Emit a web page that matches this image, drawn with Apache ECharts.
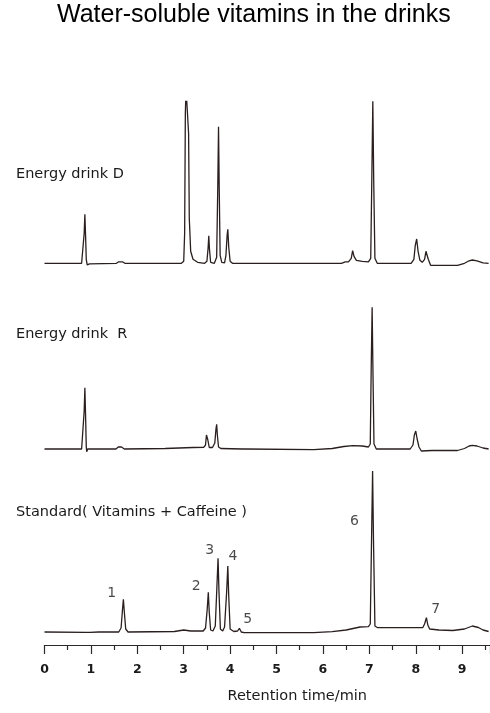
<!DOCTYPE html>
<html>
<head>
<meta charset="utf-8">
<script src="https://cdn.jsdelivr.net/npm/echarts@6/dist/echarts.min.js"></script>
<style>
  html, body { margin: 0; padding: 0; background: #fff; }
  #chart { width: 490px; height: 713px; }
</style>
</head>
<body>
<div id="chart"></div>
<script>
// chromatogram traces: [retention time (min), signal (a.u., baseline = 0)]
const drinkD = [
  [0, 0], [0.8, 0], [0.84, 2], [0.855, 30], [0.87, 49], [0.885, 28], [0.9, 4], [0.92, -1.5], [0.94, 0.5], [0.97, -0.5], [1.0, 0],
  [1.55, 0], [1.6, 1.5], [1.64, 3.5], [1.68, 1.5], [1.73, 0],
  [2.95, 0], [3.0, 2], [3.02, 30], [3.035, 150], [3.05, 175], [3.09, 175], [3.105, 130], [3.12, 45], [3.15, 12], [3.2, 4], [3.3, 1], [3.45, 0],
  [3.5, 2], [3.525, 15], [3.54, 27.6], [3.555, 14], [3.58, 1], [3.66, 0],
  [3.71, 6], [3.735, 80], [3.75, 136.6], [3.765, 75], [3.785, 8], [3.82, 1], [3.88, 0.5],
  [3.91, 8], [3.935, 28], [3.95, 34], [3.97, 16], [4.0, 2], [4.05, 0],
  [4.29, 0], [4.33, 1.5], [4.37, 0],
  [5.55, 0], [5.59, 1.5], [5.63, 0],
  [6.4, 0], [6.48, 1.5], [6.55, 1.5], [6.61, 5], [6.64, 12.6], [6.67, 7], [6.72, 3], [6.85, 2], [6.98, 1.5],
  [7.03, 5], [7.055, 90], [7.075, 162], [7.095, 80], [7.12, 5], [7.17, 0],
  [7.9, 0], [7.96, 4], [7.99, 18], [8.02, 24.3], [8.05, 12], [8.09, 3], [8.14, 1],
  [8.19, 4], [8.22, 12], [8.24, 13.3], [8.27, 4], [8.32, -2], [8.9, -2], [9.05, 0], [9.15, 2.5], [9.22, 3.3], [9.32, 2.5], [9.45, 0.5], [9.57, 0]
]

const drinkR = [
  [0, 0], [0.8, 0], [0.84, 2], [0.855, 38], [0.87, 61.3], [0.885, 34], [0.9, 2], [0.91, -2.7], [0.93, 0], [0.97, -0.5], [1.0, 0],
  [1.54, 0], [1.59, 2], [1.62, 4], [1.66, 2], [1.72, 0],
  [2.6, 0.5], [3.2, 1.5], [3.43, 1.7], [3.47, 4], [3.49, 14], [3.5, 16], [3.52, 9], [3.55, 1.5],
  [3.62, 1.5], [3.67, 6], [3.695, 20], [3.71, 24.7], [3.725, 14], [3.75, 2], [3.8, 0.5],
  [4.26, 0], [4.3, 1], [4.34, 0],
  [5.8, -0.7], [6.2, 0.5], [6.45, 2.5], [6.64, 3.3], [6.85, 3], [6.98, 2],
  [7.02, 5], [7.04, 80], [7.06, 141.7], [7.08, 70], [7.1, 5], [7.15, 0],
  [7.88, 0], [7.94, 4], [7.97, 14], [8.0, 18], [8.03, 10], [8.07, 2], [8.12, -2], [8.35, -1.5],
  [8.9, -1.5], [9.05, 0.5], [9.15, 3], [9.22, 3.7], [9.32, 3], [9.45, 1], [9.57, 0]
]

const standard = [
  [0, 0], [0.9, -0.3], [0.94, -1], [0.98, -0.3], [1.17, 0], [1.21, 1.3], [1.25, 0],
  [1.6, 0], [1.65, 4], [1.68, 22], [1.7, 32.7], [1.72, 20], [1.75, 3], [1.8, 0],
  [2.8, 0.5], [3.0, 2], [3.15, 1], [3.42, 1],
  [3.47, 4], [3.505, 22], [3.53, 39.7], [3.55, 20], [3.58, 2], [3.63, 1],
  [3.68, 6], [3.715, 45], [3.74, 73.7], [3.76, 40], [3.79, 3], [3.84, 1],
  [3.88, 5], [3.925, 40], [3.95, 66], [3.97, 36], [4.0, 3], [4.08, 0.5],
  [4.16, 1], [4.2, 3.7], [4.24, 0], [4.3, -0.7],
  [5.8, -0.7], [6.2, 0.3], [6.5, 2], [6.8, 5], [6.98, 5.3],
  [7.02, 8], [7.05, 100], [7.07, 161], [7.09, 90], [7.12, 6], [7.18, 4.3],
  [8.15, 4.3], [8.19, 8], [8.23, 14.3], [8.26, 7], [8.3, 3], [8.5, 2], [8.8, 1.5],
  [9.05, 3], [9.22, 6], [9.35, 4.5], [9.45, 2], [9.57, 0.5]
]

// peak numbers of the standard and where their labels sit
const peakNames = ['1', '2', '3', '4', '5', '6', '7']
const peakLabelTimes = [1.45, 3.27, 3.56, 4.06, 4.38, 6.68, 8.43]
const peakLabelHeights = [39, 45.3, 82, 76, 12.7, 110.3, 22.7]

const panelNames = ['Energy drink D', 'Energy drink  R', 'Standard( Vitamins + Caffeine )']

const lineColor = '#2a1f1f'
const textColor = '#1a1a1a'
const panelFont = 'DejaVu Sans'

const myChart = echarts.init(document.getElementById('chart'))

const gridBase = { left: 44.5, width: 446.4 }
const hiddenX = (gridIndex) => ({
  type: 'value', gridIndex, min: 0, max: 9.6, show: false
})
const hiddenY = (gridIndex, min) => ({
  type: 'value', gridIndex, min, max: 162, show: false
})
const traceSeries = (data, index) => ({
  type: 'line',
  xAxisIndex: index,
  yAxisIndex: index,
  data,
  symbol: 'none',
  smooth: false,
  clip: true,
  silent: true,
  lineStyle: {
    color: lineColor,
    width: 1.3
  }
})
const panelTitle = (text, top) => ({
  text,
  left: 16,
  top,
  padding: 0,
  textStyle: {
    fontFamily: panelFont,
    fontSize: 14.5,
    fontWeight: 'normal',
    color: textColor
  }
})

const option = {
  animation: false,
  title: [
    {
      text: 'Water-soluble vitamins in the drinks',
      left: 57,
      top: 3,
      padding: 0,
      textStyle: {
        fontFamily: 'Liberation Sans',
        fontSize: 25,
        fontWeight: 'normal',
        color: '#000'
      }
    },
    panelTitle(panelNames[0], 167),
    panelTitle(panelNames[1], 327),
    panelTitle(panelNames[2], 505)
  ],
  grid: [
    Object.assign({ top: 101.3, height: 174 }, gridBase),
    Object.assign({ top: 287, height: 174 }, gridBase),
    Object.assign({ top: 470, height: 175 }, gridBase)
  ],
  xAxis: [
    hiddenX(0),
    hiddenX(1),
    {
      type: 'value',
      gridIndex: 2,
      min: 0,
      max: 9.6,
      interval: 1,
      name: 'Retention time/min',
      nameLocation: 'middle',
      nameGap: 44,
      nameTextStyle: {
        fontFamily: panelFont,
        fontSize: 14.5,
        color: textColor,
        padding: [0, 0, 0, 60]
      },
      axisLine: {
        onZero: false,
        lineStyle: { color: '#2a2a2a', width: 1.2 }
      },
      axisTick: {
        length: 9,
        lineStyle: { color: '#2a2a2a', width: 1.2 }
      },
      minorTick: {
        show: true,
        splitNumber: 2,
        length: 5,
        lineStyle: { color: '#2a2a2a', width: 1.2 }
      },
      axisLabel: {
        showMaxLabel: false,
        margin: 18,
        fontFamily: panelFont,
        fontSize: 12.5,
        fontWeight: 'bold',
        color: textColor
      },
      splitLine: { show: false },
      minorSplitLine: { show: false }
    }
  ],
  yAxis: [
    hiddenY(0, -12),
    hiddenY(1, -12),
    hiddenY(2, -13)
  ],
  series: [
    traceSeries(drinkD, 0),
    traceSeries(drinkR, 1),
    traceSeries(standard, 2),
    {
      type: 'scatter',
      xAxisIndex: 2,
      yAxisIndex: 2,
      silent: true,
      symbolSize: 1,
      itemStyle: { color: 'transparent' },
      data: peakNames.map((name, i) => ({
        name,
        value: [peakLabelTimes[i], peakLabelHeights[i]]
      })),
      label: {
        show: true,
        position: 'inside',
        formatter: '{b}',
        fontFamily: panelFont,
        fontSize: 14,
        color: textColor
      }
    }
  ]
}
myChart.setOption(option)
</script>
</body>
</html>
